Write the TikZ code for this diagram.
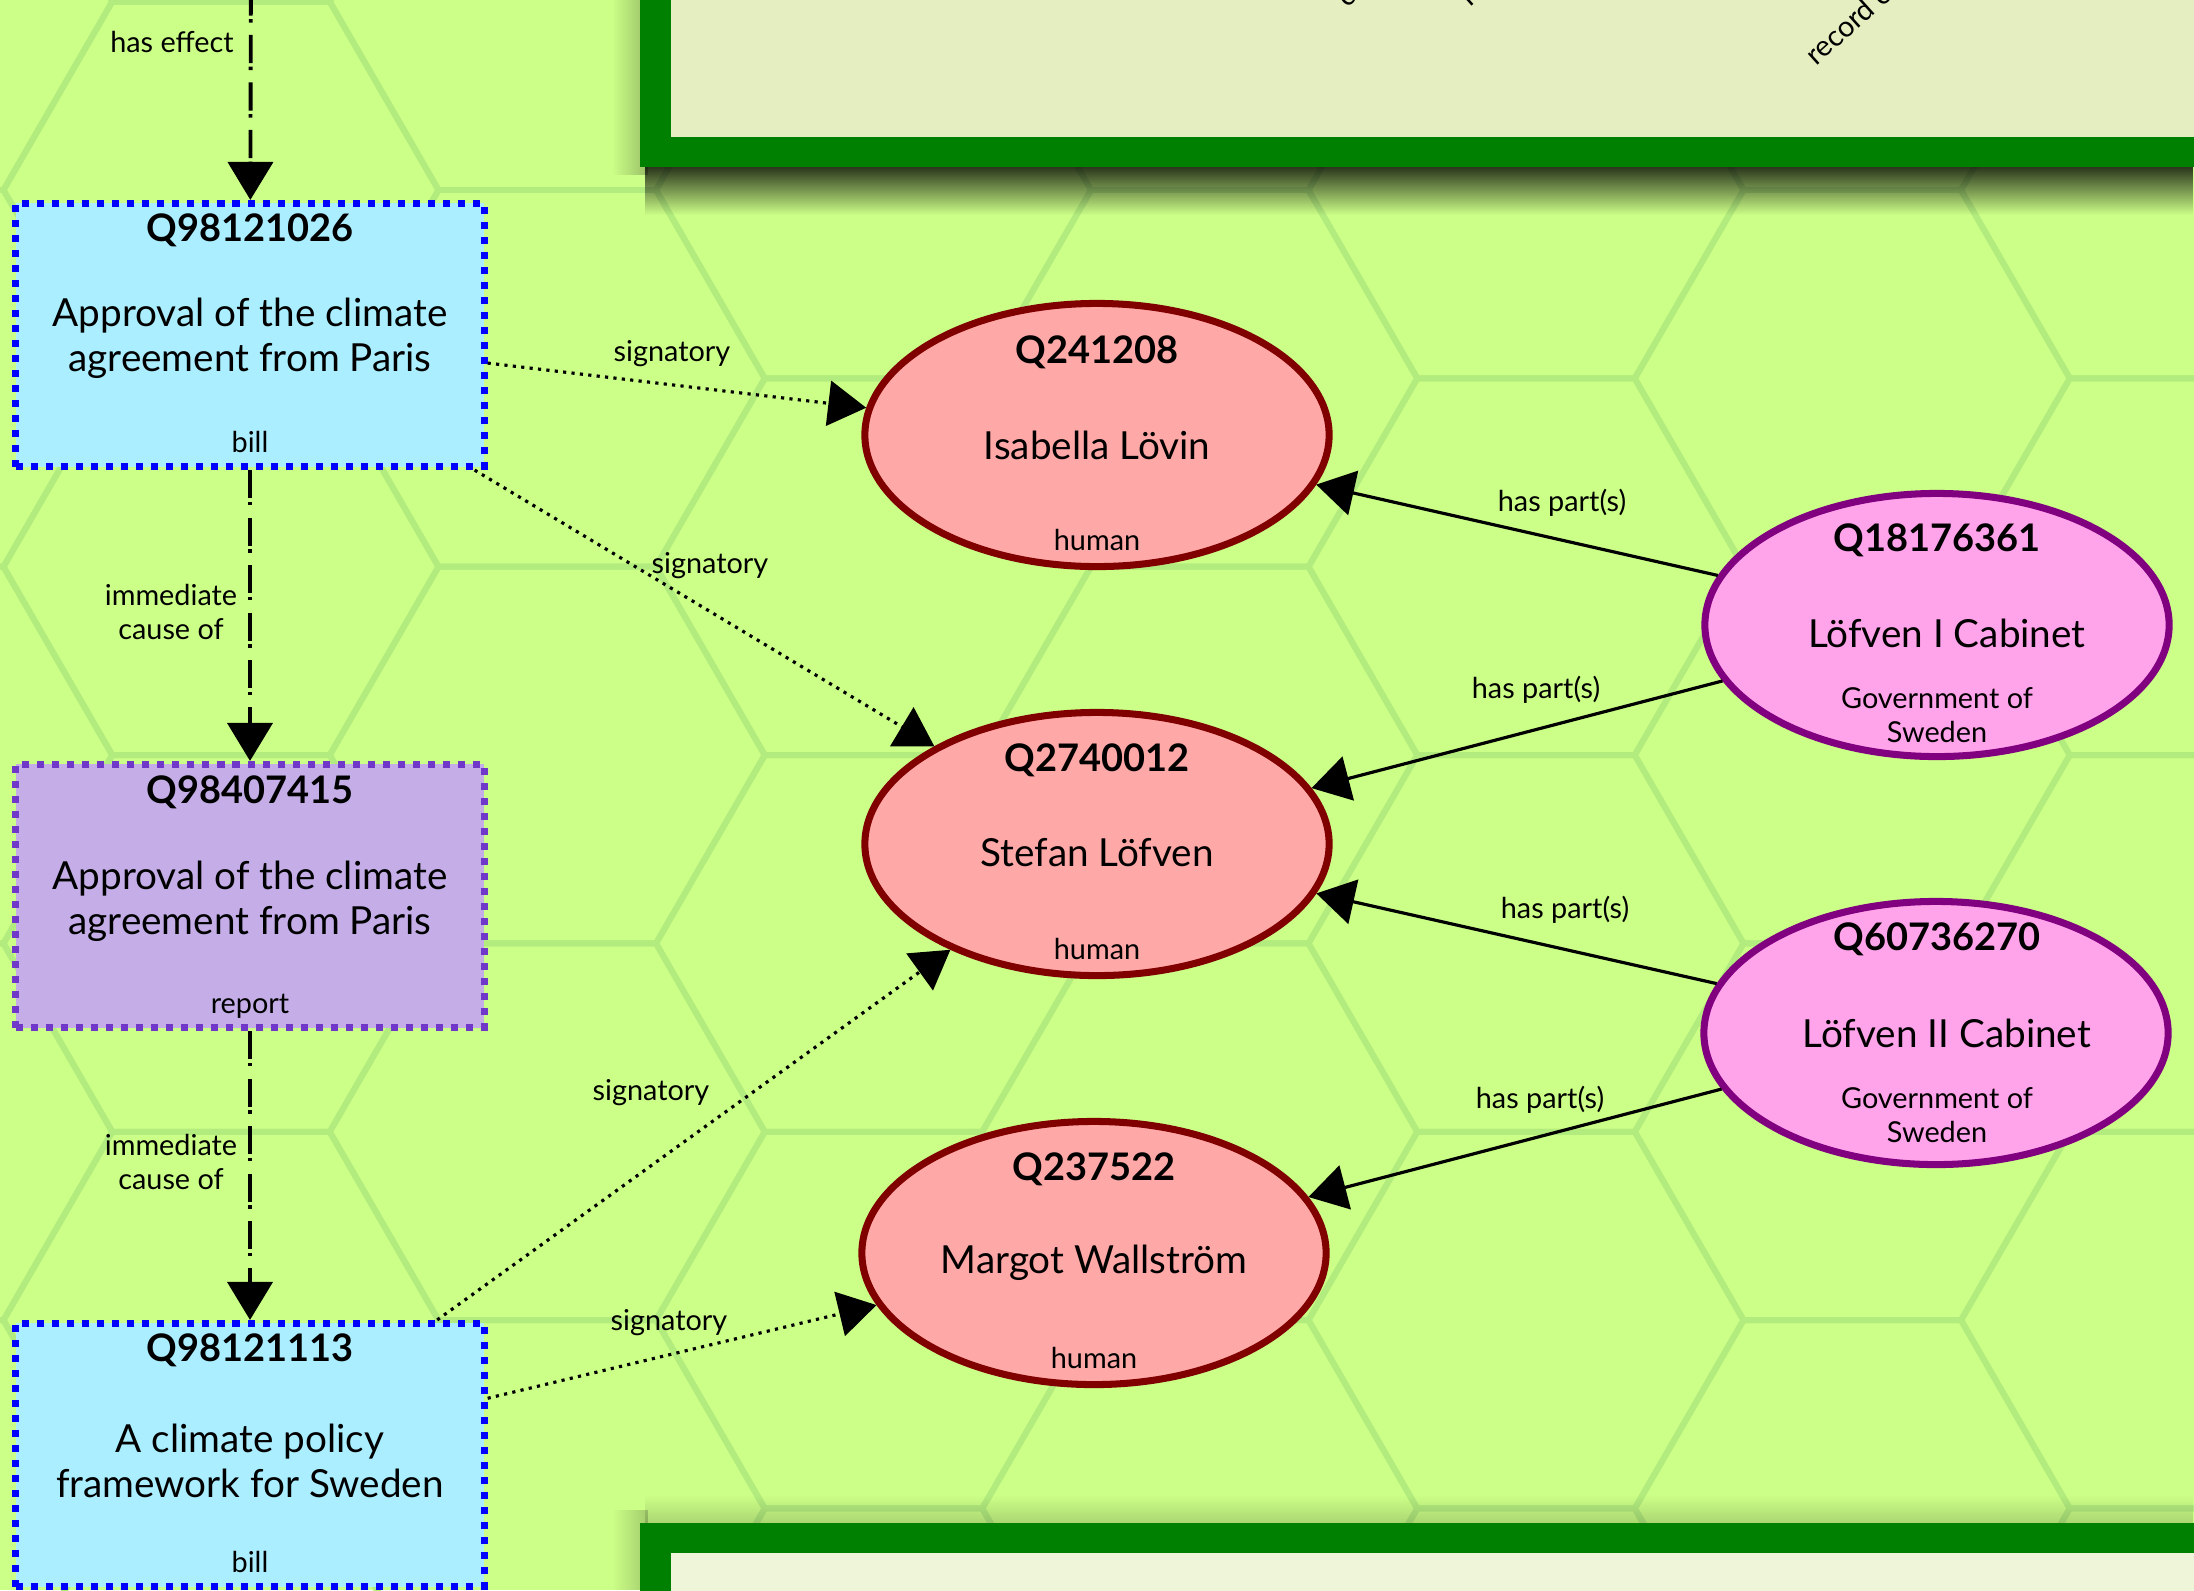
\documentclass[tikz,border=0pt]{standalone}
\usepackage{fontspec}
\setmainfont{Lato}
\usetikzlibrary{shapes.geometric,arrows.meta,fadings,positioning}

\definecolor{leafbg}{HTML}{CCFF88}
\definecolor{hexline}{HTML}{B3EC7E}
\definecolor{framegreen}{HTML}{008000}
\definecolor{panelfill}{HTML}{E5EEC0}
\definecolor{panelpale}{HTML}{EFF5D8}
\definecolor{billfill}{HTML}{AAEEFF}
\definecolor{reportfill}{HTML}{C5AEE8}
\definecolor{reportline}{HTML}{7038C8}
\definecolor{humanfill}{HTML}{FFA8A8}
\definecolor{humanline}{HTML}{800000}
\definecolor{cabinetfill}{HTML}{FFA3EB}
\definecolor{cabinetline}{HTML}{800080}

\tikzset{
  billbox/.style={rectangle, draw=blue, fill=billfill, line width=2pt,
    dash pattern=on 2pt off 2.27pt, minimum width=4.68cm, minimum height=2.63cm, inner sep=0pt},
  reportbox/.style={billbox, draw=reportline, fill=reportfill},
  human/.style={ellipse, draw=humanline, fill=humanfill, line width=2pt,
    minimum width=4.64cm, minimum height=2.63cm, inner sep=0pt},
  cabinet/.style={human, draw=cabinetline, fill=cabinetfill},
  qid/.style={font=\fontsize{10.8}{13}\selectfont\bfseries},
  qlabel/.style={font=\fontsize{11}{12.8}\selectfont, align=center},
  qclass/.style={font=\fontsize{8.2}{9.7}\selectfont, align=center},
  rel/.style={font=\fontsize{8.2}{9.9}\selectfont, align=center},
  cutrel/.style={rel, rotate=42, anchor=base west, inner sep=0pt},
  tip/.style={-{Triangle[width=12.8pt,length=10.8pt]}},
  causes/.style={tip, line width=1.1pt, dash pattern=on 8pt off 1pt on 1pt off 3.5pt},
  signs/.style={tip, line width=0.9pt, dash pattern=on 0.9pt off 1.5pt},
  partof/.style={tip, line width=0.9pt}
}

\begin{document}
\begin{tikzpicture}[x=0.01cm, y=-0.01cm]
  \useasboundingbox (0,0) rectangle (2194,1590);
  \clip (0,0) rectangle (2194,1590);
  \fill[leafbg] (0,0) rectangle (2194,1590);

  % honeycomb
  \foreach \i in {-1,...,7}{
    \foreach \j in {-1,...,4}{
      \pgfmathsetmacro\hx{221+326.25*\i}
      \pgfmathsetmacro\hy{190+376.7*\j+188.35*mod(\i+2,2)}
      \draw[hexline, line width=1.7pt, line join=round] (\hx+217.5,\hy) -- ++(-108.75,188.35)
        -- ++(-217.5,0) -- ++(-108.75,-188.35) -- ++(108.75,-188.35) -- ++(217.5,0) -- cycle;
    }
  }

  % panels
  \fill[black, opacity=0.9, path fading=south] (645,160) rectangle (2194,215);
  \fill[black, opacity=0.25, path fading=west] (612,0) rectangle (648,175);
  \fill[black, opacity=0.2, path fading=north] (645,1495) rectangle (2194,1530);
  \fill[black, opacity=0.2, path fading=west] (612,1510) rectangle (648,1590);
  \fill[framegreen] (640,-100) rectangle (2300,167);
  \fill[panelfill] (671,-100) rectangle (2300,137);
  \fill[framegreen] (640,1523) rectangle (2300,1700);
  \fill[panelpale] (671,1553) rectangle (2300,1700);

  \node[cutrel] (c-fragment) at (1347,9) {c};
  \node[cutrel] (n-fragment) at (1470,8) {n};
  \node[cutrel] (record-label) at (1816,67) {record of};

  % items
  \node[billbox] (paris-bill) at (250,335) {};
  \node[reportbox] (paris-report) at (250,896) {};
  \node[billbox] (framework-bill) at (250,1455) {};
  \node[human] (lovin) at (1097,435) {};
  \node[human] (lofven) at (1097,844) {};
  \node[human] (wallstrom) at (1094,1253) {};
  \node[cabinet] (cabinet-one) at (1937,625) {};
  \node[cabinet] (cabinet-two) at (1936,1033) {};

  \node[qid] (paris-bill-id) at (250,230) {Q98121026};
  \node[qlabel] (paris-bill-name) at (250,338) {Approval of the climate\\agreement from Paris};
  \node[qclass] (paris-bill-class) at (250,442) {bill};
  \node[qid] (paris-report-id) at (250,792) {Q98407415};
  \node[qlabel] (paris-report-name) at (250,901) {Approval of the climate\\agreement from Paris};
  \node[qclass] (paris-report-class) at (250,1006) {report};
  \node[qid] (framework-bill-id) at (250,1350) {Q98121113};
  \node[qlabel] (framework-bill-name) at (250,1461) {A climate policy\\framework for Sweden};
  \node[qclass] (framework-bill-class) at (250,1562) {bill};

  \node[qid] (lovin-id) at (1097,352) {Q241208};
  \node[qlabel] (lovin-name) at (1097,445) {Isabella Lövin};
  \node[qclass] (lovin-class) at (1097,540) {human};
  \node[qid] (lofven-id) at (1097,760) {Q2740012};
  \node[qlabel] (lofven-name) at (1097,853) {Stefan Löfven};
  \node[qclass] (lofven-class) at (1097,949) {human};
  \node[qid] (wallstrom-id) at (1094,1169) {Q237522};
  \node[qlabel] (wallstrom-name) at (1094,1263) {Margot Wallström};
  \node[qclass] (wallstrom-class) at (1094,1358) {human};
  \node[qid] (cabinet-one-id) at (1937,540) {Q18176361};
  \node[qlabel] (cabinet-one-name) at (1947,633) {Löfven I Cabinet};
  \node[qclass] (cabinet-one-class) at (1937,715) {Government of\\Sweden};
  \node[qid] (cabinet-two-id) at (1937,939) {Q60736270};
  \node[qlabel] (cabinet-two-name) at (1947,1033) {Löfven II Cabinet};
  \node[qclass] (cabinet-two-class) at (1937,1115) {Government of\\Sweden};

  % relations
  \coordinate (offtop) at (251,-60);
  \draw[causes] (offtop) -- (paris-bill);
  \draw[causes] (paris-bill) -- (paris-report);
  \draw[causes] (paris-report) -- (framework-bill);
  \draw[signs] (paris-bill) -- (lovin);
  \draw[signs] (paris-bill) -- (lofven);
  \draw[signs] (framework-bill) -- (lofven);
  \draw[signs] (framework-bill) -- (wallstrom);
  \draw[partof] (cabinet-one) -- (lovin);
  \draw[partof] (cabinet-one) -- (lofven);
  \draw[partof] (cabinet-two) -- (lofven);
  \draw[partof] (cabinet-two) -- (wallstrom);

  \node[rel] (effect-label) at (172,42) {has effect};
  \node[rel] (cause-label-a) at (171,612) {immediate\\cause of};
  \node[rel] (cause-label-b) at (171,1162) {immediate\\cause of};
  \node[rel] (sign-label-a) at (672,354) {signatory};
  \node[rel] (sign-label-b) at (710,566) {signatory};
  \node[rel] (sign-label-c) at (651,1093) {signatory};
  \node[rel] (sign-label-d) at (669,1323) {signatory};
  \node[rel] (part-label-a) at (1562,503) {has part(s)};
  \node[rel] (part-label-b) at (1536,690) {has part(s)};
  \node[rel] (part-label-c) at (1565,910) {has part(s)};
  \node[rel] (part-label-d) at (1540,1100) {has part(s)};
\end{tikzpicture}
\end{document}
